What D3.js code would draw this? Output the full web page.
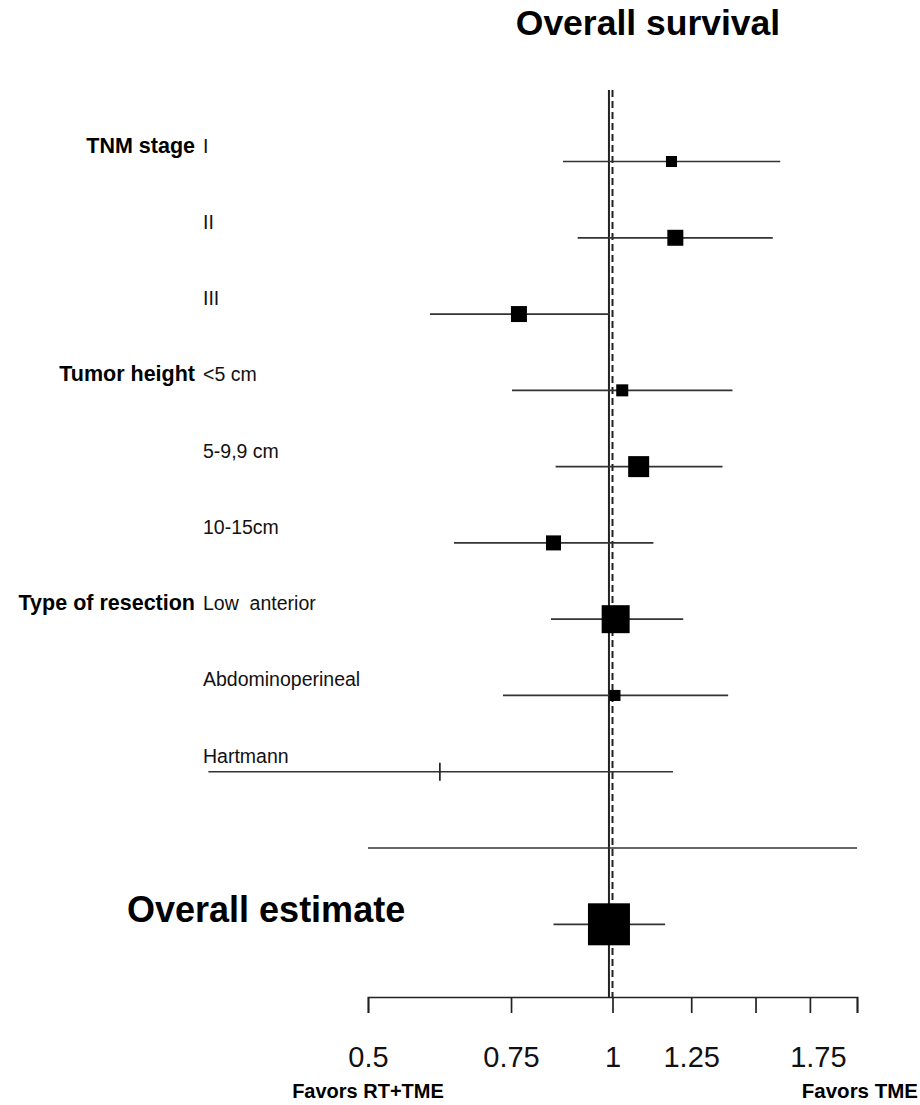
<!DOCTYPE html>
<html>
<head>
<meta charset="utf-8">
<script src="https://cdn.jsdelivr.net/npm/d3@7/dist/d3.min.js"></script>
<style>
  body { margin: 0; background: #fff; }
  svg { font-family: "Liberation Sans", Arial, sans-serif; }
</style>
</head>
<body>
<div id="chart"></div>
<script>
// data (hazard ratios, log scale)
var groups   = ["TNM stage", "", "", "Tumor height", "", "", "Type of resection", "", "", "", ""]
var labels   = ["I", "II", "III", "<5 cm", "5-9,9 cm", "10-15cm", "Low  anterior", "Abdominoperineal", "Hartmann", "", ""]
var est      = [1.182, 1.195, 0.767, 1.028, 1.077, 0.846, 1.009, 1.007, 0.613, null, 0.990]
var lower    = [0.869, 0.906, 0.596, 0.752, 0.851, 0.638, 0.840, 0.733, 0.318, 0.5, 0.846]
var upper    = [1.609, 1.575, 0.992, 1.405, 1.366, 1.123, 1.222, 1.388, 1.187, 2.0, 1.161]
var weight   = [6.9, 14.5, 14.5, 8.2, 25, 12.8, 44.4, 6.9, 0.1, 0, 100]
var tickVals = [0.5, 0.75, 1, 1.25, 1.5, 1.75, 2]
var tickShown = [0.5, 0.75, 1, 1.25, 1.75]

var W = 920, H = 1105
var svg = d3.select("#chart").append("svg")
    .attr("width", W).attr("height", H)

var x = d3.scaleLog().domain([0.5, 2]).range([368, 857])
var y = d3.scaleLinear().domain([0, labels.length - 1]).range([161.5, 924.3])
var box = d3.scaleSqrt().domain([0, 100]).range([0, 42])
var axisY = 997, topY = 90

var rows = d3.range(labels.length).map(function (i) {
    return { i: i, group: groups[i], label: labels[i], est: est[i], lo: lower[i], hi: upper[i], w: weight[i] }
})

// title
svg.append("text")
    .attr("x", 648).attr("y", 35)
    .attr("text-anchor", "middle")
    .attr("font-size", 35.5).attr("font-weight", "bold")
    .text("Overall survival")

// reference lines: summary estimate (solid) and no effect (dashed)
svg.append("line")
    .attr("x1", x(est[est.length - 1])).attr("x2", x(est[est.length - 1]))
    .attr("y1", topY).attr("y2", axisY)
    .attr("stroke", "#222").attr("stroke-width", 2)
svg.append("line")
    .attr("x1", x(1)).attr("x2", x(1))
    .attr("y1", topY).attr("y2", axisY)
    .attr("stroke", "#222").attr("stroke-width", 2)
    .attr("stroke-dasharray", "7,4")

// group labels
svg.selectAll(".grp")
    .data(rows.filter(d => d.group))
    .enter().append("text")
    .attr("x", 195).attr("y", d => y(d.i) - 9)
    .attr("text-anchor", "end")
    .attr("font-size", 21.5).attr("font-weight", "bold")
    .text(d => d.group)

// row labels
svg.selectAll(".lab")
    .data(rows.filter(d => d.label))
    .enter().append("text")
    .attr("x", 203).attr("y", d => y(d.i) - 9)
    .attr("font-size", 19.5)
    .attr("fill", "#111")
    .style("white-space", "pre")
    .attr("xml:space", "preserve")
    .text(d => d.label)

svg.append("text")
    .attr("x", 127).attr("y", y(labels.length - 1) - 2)
    .attr("font-size", 36).attr("font-weight", "bold")
    .text("Overall estimate")

// confidence intervals
svg.selectAll(".ci")
    .data(rows)
    .enter().append("line")
    .attr("x1", d => x(d.lo)).attr("x2", d => x(d.hi))
    .attr("y1", d => y(d.i)).attr("y2", d => y(d.i))
    .attr("stroke", "#333").attr("stroke-width", 1.7)

// boxes (or a tick when the box would be too small)
rows.filter(d => d.est != null).forEach(function (d) {
    var s = box(d.w)
    if (s < 3) {
        svg.append("line")
            .attr("x1", x(d.est)).attr("x2", x(d.est))
            .attr("y1", y(d.i) - 9).attr("y2", y(d.i) + 9)
            .attr("stroke", "#222").attr("stroke-width", 1.7)
    } else {
        svg.append("rect")
            .attr("x", x(d.est) - s / 2).attr("y", y(d.i) - s / 2)
            .attr("width", s).attr("height", s)
            .attr("fill", "#000")
    }
})

// axis
var axis = d3.axisBottom(x)
    .tickValues(tickVals)
    .tickSize(16)
    .tickPadding(33)
    .tickFormat(d => tickShown.indexOf(d) >= 0 ? d3.format("")(d) : "")
var gx = svg.append("g")
    .attr("transform", "translate(0," + axisY + ")")
    .call(axis)
gx.select(".domain").attr("stroke", "#222").attr("stroke-width", 1.7)
gx.selectAll(".tick line").attr("stroke", "#222").attr("stroke-width", 1.7)
gx.selectAll(".tick text")
    .attr("font-family", "Liberation Sans, Arial, sans-serif")
    .attr("font-size", 29).attr("fill", "#111")
    .attr("dx", d => d === 1.75 ? 8 : 0)

// favours labels
svg.append("text")
    .attr("x", x(0.5)).attr("y", 1098)
    .attr("text-anchor", "middle")
    .attr("font-size", 20).attr("font-weight", "bold")
    .text("Favors RT+TME")
svg.append("text")
    .attr("x", 918).attr("y", 1098)
    .attr("text-anchor", "end")
    .attr("font-size", 20.5).attr("font-weight", "bold")
    .text("Favors TME")
</script>
</body>
</html>
